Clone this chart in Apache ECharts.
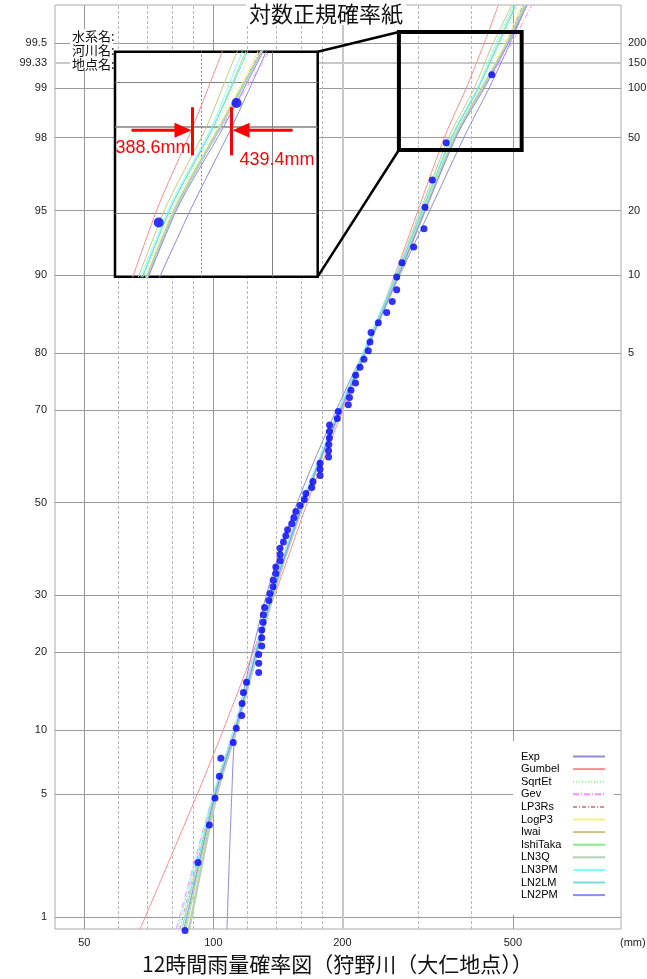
<!DOCTYPE html>
<html><head><meta charset="utf-8">
<script src="https://cdn.jsdelivr.net/npm/echarts@6/dist/echarts.min.js"></script>
<style>html,body{margin:0;padding:0;background:#fff}#c{width:647px;height:979px}</style>
</head><body><div id="c"></div>
<script>
// ---------------- data ----------------
const probLevels = [1, 5, 10, 20, 30, 50, 70, 80, 90, 95, 98, 99, 99.33, 99.5];
const probLabels = ['1', '5', '10', '20', '30', '50', '70', '80', '90', '95', '98', '99', '99.33', '99.5'];
const returnPeriods = [5, 10, 20, 50, 100, 150, 200];
const returnProbs = [80, 90, 95, 98, 99, 99.33, 99.5];
const xMajorTicks = [50, 100, 200, 500];
const xMinorTicks = [60, 70, 80, 90, 120, 140, 160, 180, 300, 400];
const mainRainRange = [42.72, 893.5];
const mainProbRange = [0.829, 99.741];
const insetRainRange = [304.6, 576.0];
const insetProbRange = [96.77, 99.49];
const insetProbLines = [98, 99, 99.33];
const insetRainLines = [400, 500];
const zoomBoxRain = [271, 524];
const zoomBoxProb = [97.62, 99.59];
const markerValues = [388.6, 439.4];
const markerArrowProb = 98.975;
const markerSpanProb = [98.735, 99.16];

// observed 12-hour rainfall (mm), sorted, and plotting probability (%)
const rainfall = [85.9, 92.1, 97.9, 100.9, 103.3, 104.1, 111.3, 113.1, 116.5, 116.7,
  117.5, 119.5, 127.6, 127.6, 127.6, 129.7, 129.7, 129.7, 130.6, 130.8,
  131.7, 134.7, 135.6, 137.8, 138.0, 139.8, 139.9, 143.1, 143.1, 143.1,
  145.7, 147.6, 149.0, 152.4, 154.1, 155.8, 159.3, 163.0, 164.4, 169.7,
  170.8, 177.4, 177.4, 177.4, 185.7, 185.7, 186.0, 186.5, 186.6, 186.7,
  194.6, 195.7, 206.5, 207.8, 209.5, 214.6, 214.8, 219.9, 224.6, 229.9,
  232.0, 233.3, 242.6, 253.8, 261.5, 267.8, 267.8, 275.5, 293.4, 310.1,
  311.8, 324.2, 349.4, 446.3];
const plotProb = [0.81, 2.16, 3.50, 4.85, 6.20, 7.55, 8.89, 10.24, 11.59, 12.94,
  14.29, 15.63, 16.98, 18.33, 19.68, 21.02, 22.37, 23.72, 25.07, 26.42,
  27.76, 29.11, 30.46, 31.81, 33.15, 34.50, 35.85, 37.20, 38.54, 39.89,
  41.24, 42.59, 43.94, 45.28, 46.63, 47.98, 49.33, 50.67, 52.02, 53.37,
  54.72, 56.06, 57.41, 58.76, 60.11, 61.46, 62.80, 64.15, 65.50, 66.85,
  68.19, 69.54, 70.89, 72.24, 73.58, 74.93, 76.28, 77.63, 78.98, 80.32,
  81.67, 83.02, 84.37, 85.71, 87.06, 88.41, 89.76, 91.11, 92.45, 93.80,
  95.15, 96.50, 97.84, 99.19];

// fitted distributions: rainfall (mm) read at these probabilities (%)
const fitProb = [0.83, 5, 10, 30, 50, 70, 90, 98, 99, 99.47, 99.74];
const expVals      = [107.6, 110.4, 112.8, 132.8, 157.0, 194.0, 272.8, 384.6, 439.4, 486.9, 538.4];
const gumbelVals   = [67.5, 91.5, 105.3, 138.8, 165.7, 200.8, 265.3, 346.3, 388.6, 424.5, 462.4];
const sqrtEtVals   = [85.0, 100.4, 112.1, 136.7, 161.9, 197.6, 268.9, 362.4, 416.9, 464.1, 511.9];
const gevVals      = [81.9, 99.7, 111.2, 135.6, 161.0, 196.5, 268.2, 366.3, 425.9, 489.8, 553.0];
const lp3RsVals    = [83.6, 100.1, 111.8, 136.3, 161.5, 197.6, 270.4, 366.3, 423.6, 476.8, 527.8];
const logP3Vals    = [84.4, 100.1, 111.8, 136.3, 161.5, 197.6, 269.6, 364.4, 421.4, 474.2, 524.1];
const iwaiVals     = [86.4, 101.2, 112.7, 137.4, 162.8, 198.6, 266.7, 354.7, 405.8, 444.6, 496.7];
const ishiTakaVals = [85.9, 100.6, 112.1, 136.7, 161.9, 197.6, 268.2, 360.5, 414.6, 456.7, 505.6];
const ln3QVals     = [87.8, 101.8, 113.0, 137.8, 162.8, 198.6, 271.1, 366.3, 423.6, 479.3, 533.5];
const ln3PMVals    = [82.7, 99.8, 111.5, 136.0, 161.0, 196.5, 266.7, 358.6, 412.4, 451.8, 501.0];
const ln2LMVals    = [84.5, 100.4, 112.1, 136.7, 161.9, 197.6, 268.2, 360.5, 414.6, 459.2, 508.3];
const ln2PMVals    = [85.4, 100.9, 112.4, 137.1, 162.3, 198.6, 271.1, 368.3, 428.2, 481.9, 539.2];

const fitNames = ['Exp', 'Gumbel', 'SqrtEt', 'Gev', 'LP3Rs', 'LogP3', 'Iwai', 'IshiTaka', 'LN3Q', 'LN3PM', 'LN2LM', 'LN2PM'];
const fitData = [expVals, gumbelVals, sqrtEtVals, gevVals, lp3RsVals, logP3Vals, iwaiVals, ishiTakaVals, ln3QVals, ln3PMVals, ln2LMVals, ln2PMVals];

// ---------------- styles ----------------
const fitStyles = [
  {color: '#8c8cdc', width: 1, type: 'solid'},
  {color: '#ff8c8c', width: 1, type: 'solid'},
  {color: '#8cff8c', width: 1, type: [1, 2]},
  {color: '#ff8cff', width: 1, type: [6, 2, 1, 2]},
  {color: '#dc8c8c', width: 1, type: [4, 2, 1, 2]},
  {color: '#f0f080', width: 1, type: 'solid'},
  {color: '#c8c882', width: 1, type: 'solid'},
  {color: '#8ce68c', width: 1, type: 'solid'},
  {color: '#b4d2b4', width: 2.5, type: 'solid'},
  {color: '#80ffff', width: 1, type: 'solid'},
  {color: '#78dcdc', width: 1, type: 'solid'},
  {color: '#8c8cff', width: 1, type: 'solid'}
];

// inverse standard normal CDF (probability-paper axis transform)
function probit(p) {
  const a = [-3.969683028665376e+01, 2.209460984245205e+02, -2.759285104469687e+02, 1.383577518672690e+02, -3.066479806614716e+01, 2.506628277459239e+00];
  const b = [-5.447609879822406e+01, 1.615858368580409e+02, -1.556989798598866e+02, 6.680131188771972e+01, -1.328068155288572e+01];
  const c = [-7.784894002430293e-03, -3.223964580411365e-01, -2.400758277161838e+00, -2.549732467911158e+00, 4.374664141464968e+00, 2.938163982698783e+00];
  const d = [7.784695709041462e-03, 3.224671290700398e-01, 2.445134137142996e+00, 3.754408661907416e+00];
  const pl = 0.02425, ph = 1 - pl;
  let q, r;
  if (p < pl) { q = Math.sqrt(-2 * Math.log(p)); return (((((c[0]*q+c[1])*q+c[2])*q+c[3])*q+c[4])*q+c[5]) / ((((d[0]*q+d[1])*q+d[2])*q+d[3])*q+1); }
  if (p <= ph) { q = p - 0.5; r = q*q; return (((((a[0]*r+a[1])*r+a[2])*r+a[3])*r+a[4])*r+a[5])*q / (((((b[0]*r+b[1])*r+b[2])*r+b[3])*r+b[4])*r+1); }
  q = Math.sqrt(-2 * Math.log(1 - p));
  return -(((((c[0]*q+c[1])*q+c[2])*q+c[3])*q+c[4])*q+c[5]) / ((((d[0]*q+d[1])*q+d[2])*q+d[3])*q+1);
}
const Z = pct => probit(pct / 100);

const FONT = 'Liberation Sans';
const JFONT = '"Noto Sans CJK JP"';

// ---------------- series ----------------
const series = [];
// main horizontal grid lines with probability labels
series.push({
  type: 'line', data: [], xAxisIndex: 0, yAxisIndex: 0, z: 1, silent: true,
  markLine: {
    z: 1, silent: true, symbol: ['none', 'none'], animation: false,
    data: probLevels.map((p, i) => ({
      yAxis: Z(p),
      lineStyle: p === 99.33 ? {color: '#c8c8c8', width: 2, type: 'solid'} : {color: '#9a9a9a', width: 1, type: 'solid'},
      label: {show: true, position: 'start', distance: 8, formatter: probLabels[i], color: '#222', fontSize: 11, fontFamily: FONT}
    }))
  }
});
// right return-period labels
series.push({
  type: 'line', data: [], xAxisIndex: 0, yAxisIndex: 0, z: 1, silent: true,
  markLine: {
    z: 1, silent: true, symbol: ['none', 'none'], animation: false,
    data: returnProbs.map((p, i) => ({
      yAxis: Z(p),
      lineStyle: {color: 'rgba(0,0,0,0)', width: 1},
      label: {show: true, position: 'end', distance: 7, formatter: String(returnPeriods[i]), color: '#222', fontSize: 11, fontFamily: FONT}
    }))
  }
});
// vertical grid lines
series.push({
  type: 'line', data: [], xAxisIndex: 0, yAxisIndex: 0, z: 1, silent: true,
  markLine: {
    z: 1, silent: true, symbol: ['none', 'none'], animation: false,
    data: xMajorTicks.map(v => ({
      xAxis: v,
      lineStyle: v === 200 ? {color: '#c8c8c8', width: 2, type: 'solid'} : {color: '#9a9a9a', width: 1, type: 'solid'},
      label: {show: true, position: 'start', distance: 8, formatter: String(v), color: '#222', fontSize: 11, fontFamily: FONT}
    })).concat(xMinorTicks.map(v => ({
      xAxis: v,
      lineStyle: {color: '#b8b8b8', width: 1, type: [3, 2]},
      label: {show: false}
    })))
  }
});
// fitted lines (main)
fitNames.forEach((n, k) => {
  series.push({
    name: n, type: 'line', xAxisIndex: 0, yAxisIndex: 0, z: 2,
    symbol: 'none', smooth: 0.25, clip: true, silent: true,
    lineStyle: fitStyles[k], itemStyle: {color: fitStyles[k].color},
    data: fitProb.map((p, i) => [fitData[k][i], Z(p)])
  });
});
// observed points (main)
series.push({
  name: '観測値', type: 'scatter', xAxisIndex: 0, yAxisIndex: 0, z: 3, clip: false, silent: true,
  symbol: 'circle', symbolSize: 7, itemStyle: {color: '#0000ff'},
  data: rainfall.map((v, i) => [v, Z(plotProb[i])])
});
// zoom frame on main chart
series.push({
  type: 'line', data: [], xAxisIndex: 0, yAxisIndex: 0, z: 6, silent: true,
  markArea: {
    z: 6, silent: true, animation: false,
    itemStyle: {color: 'rgba(0,0,0,0)', borderColor: '#000', borderWidth: 4},
    data: [[{coord: [zoomBoxRain[0], Z(zoomBoxProb[0])]}, {coord: [zoomBoxRain[1], Z(zoomBoxProb[1])]}]]
  }
});
// inset grid lines
series.push({
  type: 'line', data: [], xAxisIndex: 1, yAxisIndex: 1, z: 4, silent: true,
  markLine: {
    z: 4, silent: true, symbol: ['none', 'none'], animation: false, label: {show: false},
    data: insetProbLines.map(p => ({yAxis: Z(p), lineStyle: {color: '#808080', width: p === 99 ? 1.6 : 1, type: 'solid'}}))
      .concat(insetRainLines.map((v, i) => ({xAxis: v, lineStyle: {color: '#808080', width: 1, type: i === 0 ? [2, 2] : 'solid'}})))
  }
});
// fitted lines (inset)
fitNames.forEach((n, k) => {
  series.push({
    name: n, type: 'line', xAxisIndex: 1, yAxisIndex: 1, z: 5,
    symbol: 'none', smooth: 0.25, clip: true, silent: true,
    lineStyle: fitStyles[k], itemStyle: {color: fitStyles[k].color},
    data: fitProb.map((p, i) => [fitData[k][i], Z(p)])
  });
});
// observed points (inset)
series.push({
  name: '観測値', type: 'scatter', xAxisIndex: 1, yAxisIndex: 1, z: 6, clip: true, silent: true,
  symbol: 'circle', symbolSize: 10, itemStyle: {color: '#0000ff'},
  data: rainfall.map((v, i) => [v, Z(plotProb[i])])
});
// red marker lines (inset)
series.push({
  type: 'line', data: [], xAxisIndex: 1, yAxisIndex: 1, z: 7, silent: true,
  markLine: {
    z: 7, silent: true, symbol: ['none', 'none'], animation: false, label: {show: false},
    lineStyle: {color: '#ff0000', width: 3, type: 'solid'},
    data: markerValues.map(v => [{coord: [v, Z(markerSpanProb[0])]}, {coord: [v, Z(markerSpanProb[1])]}])
  }
});

const option = {
  animation: false,
  backgroundColor: '#fff',
  title: [
    {text: '対数正規確率紙', left: 246, top: 3, padding: [0, 3], backgroundColor: '#fff', z: 8,
     textStyle: {fontFamily: JFONT, fontSize: 22, fontWeight: 'normal', color: '#111'}},
    {text: '12時間雨量確率図（狩野川（大仁地点））', left: 142, top: 954, padding: 0,
     textStyle: {fontFamily: JFONT, fontSize: 21, fontWeight: 'normal', color: '#111'}}
  ],
  legend: {
    data: fitNames, orient: 'vertical', left: 513, top: 741, align: 'right',
    itemWidth: 32, itemHeight: 11, itemGap: 1.6, padding: [10, 8, 14, 8],
    backgroundColor: '#fff', selectedMode: false, z: 8,
    itemStyle: {color: 'rgba(0,0,0,0)', borderColor: 'rgba(0,0,0,0)', borderWidth: 0, opacity: 0},
    formatter: n => '{t|' + n + '}',
    textStyle: {fontFamily: FONT, fontSize: 11, color: '#000',
      rich: {t: {width: 47, align: 'left', fontFamily: FONT, fontSize: 11, color: '#000'}}}
  },
  grid: [
    {left: 55, top: 5, width: 566, height: 924, show: true, borderColor: '#aaa', borderWidth: 1, backgroundColor: 'rgba(0,0,0,0)'},
    {left: 115, top: 51.7, width: 202.7, height: 225, show: true, backgroundColor: '#fff', borderColor: '#000', borderWidth: 2.5, z: 3}
  ],
  xAxis: [
    {type: 'log', logBase: 10, gridIndex: 0, min: mainRainRange[0], max: mainRainRange[1], show: false,
     axisLine: {onZero: false}},
    {type: 'log', logBase: 10, gridIndex: 1, min: insetRainRange[0], max: insetRainRange[1], show: false,
     axisLine: {onZero: false}}
  ],
  yAxis: [
    {type: 'value', gridIndex: 0, min: Z(mainProbRange[0]), max: Z(mainProbRange[1]), show: false},
    {type: 'value', gridIndex: 1, min: Z(insetProbRange[0]), max: Z(insetProbRange[1]), show: false}
  ],
  series: series
};

const chart = echarts.init(document.getElementById('c'), null, {renderer: 'canvas', width: 647, height: 979});
chart.setOption(option);

// decorations placed from the library's coordinate conversion
const insetTR = chart.convertToPixel({gridIndex: 1}, [insetRainRange[1], Z(insetProbRange[1])]);
const insetBR = chart.convertToPixel({gridIndex: 1}, [insetRainRange[1], Z(insetProbRange[0])]);
const insetTL = chart.convertToPixel({gridIndex: 1}, [insetRainRange[0], Z(insetProbRange[1])]);
const boxTL = chart.convertToPixel({gridIndex: 0}, [zoomBoxRain[0], Z(zoomBoxProb[1])]);
const boxBL = chart.convertToPixel({gridIndex: 0}, [zoomBoxRain[0], Z(zoomBoxProb[0])]);
const mainBR = chart.convertToPixel({gridIndex: 0}, [mainRainRange[1], Z(mainProbRange[0])]);
const mL = chart.convertToPixel({gridIndex: 1}, [markerValues[0], Z(markerArrowProb)]);
const mR = chart.convertToPixel({gridIndex: 1}, [markerValues[1], Z(markerArrowProb)]);
const red = '#ff0000';
const graphic = [
  {type: 'rect', shape: {x: 70, y: 29, width: insetTL[0] - 72, height: 41}, style: {fill: '#fff'}, z: 5, silent: true},
  {type: 'text', x: 72, y: 36, style: {text: '水系名:', font: '13px ' + JFONT, fill: '#111', verticalAlign: 'middle'}, z: 6},
  {type: 'text', x: 72, y: 50.3, style: {text: '河川名:', font: '13px ' + JFONT, fill: '#111', verticalAlign: 'middle'}, z: 6},
  {type: 'text', x: 72, y: 64, style: {text: '地点名:', font: '13px ' + JFONT, fill: '#111', verticalAlign: 'middle'}, z: 6},
  {type: 'text', x: mainBR[0] - 1, y: mainBR[1] + 14, style: {text: '(mm)', font: '11px ' + FONT, fill: '#222', align: 'left', verticalAlign: 'middle'}, z: 6},
  {type: 'line', shape: {x1: insetTR[0], y1: insetTR[1], x2: boxTL[0], y2: boxTL[1]}, style: {stroke: '#000', lineWidth: 2.5}, z: 7, silent: true},
  {type: 'line', shape: {x1: insetBR[0], y1: insetBR[1], x2: boxBL[0], y2: boxBL[1]}, style: {stroke: '#000', lineWidth: 2.5}, z: 7, silent: true},
  // left arrow -> 388.6
  {type: 'line', shape: {x1: mL[0] - 61, y1: mL[1], x2: mL[0] - 15, y2: mL[1]}, style: {stroke: red, lineWidth: 3}, z: 9, silent: true},
  {type: 'polygon', shape: {points: [[mL[0] - 1, mL[1]], [mL[0] - 18, mL[1] - 7.5], [mL[0] - 18, mL[1] + 7.5]]}, style: {fill: red}, z: 9, silent: true},
  {type: 'text', x: mL[0] - 2, y: mL[1] + 18, style: {text: markerValues[0] + 'mm', font: '18px ' + FONT, fill: red, align: 'right', verticalAlign: 'middle'}, z: 9},
  // right arrow -> 439.4
  {type: 'line', shape: {x1: mR[0] + 61, y1: mR[1], x2: mR[0] + 15, y2: mR[1]}, style: {stroke: red, lineWidth: 3}, z: 9, silent: true},
  {type: 'polygon', shape: {points: [[mR[0] + 1, mR[1]], [mR[0] + 18, mR[1] - 7.5], [mR[0] + 18, mR[1] + 7.5]]}, style: {fill: red}, z: 9, silent: true},
  {type: 'text', x: mR[0] + 8, y: mR[1] + 30, style: {text: markerValues[1] + 'mm', font: '18px ' + FONT, fill: red, align: 'left', verticalAlign: 'middle'}, z: 9}
];
chart.setOption({graphic: graphic});
</script>
</body></html>
